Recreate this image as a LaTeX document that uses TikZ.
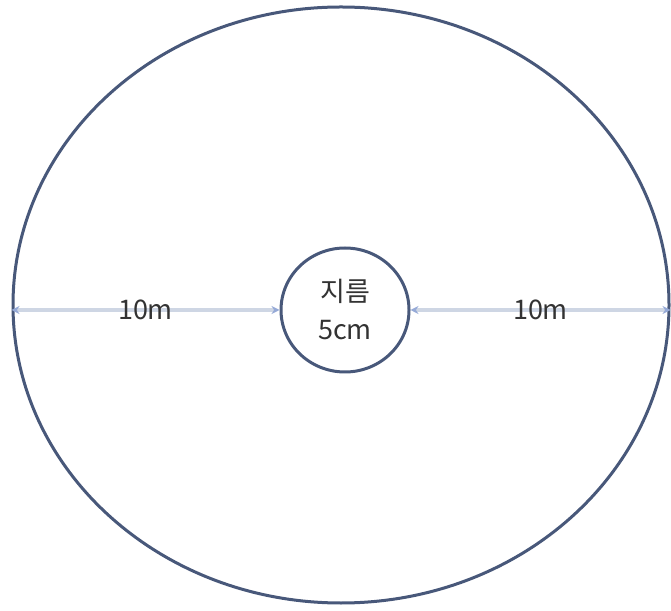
\documentclass[tikz,border=0pt]{standalone}
\usepackage{fontspec}
\setmainfont{Noto Sans CJK KR}
\usetikzlibrary{shapes.geometric,arrows.meta,positioning}
\definecolor{rim}{RGB}{72,88,122}
\definecolor{dimline}{RGB}{206,214,228}
\definecolor{dimtip}{RGB}{150,170,215}
\tikzset{
  ring/.style={ellipse, draw=rim, line width=3pt, inner sep=0pt},
  dim/.style={{Stealth[length=8pt,width=8pt,color=dimtip]}-{Stealth[length=8pt,width=8pt,color=dimtip]}, draw=dimline, line width=3.5pt},
  lbl/.style={font=\fontsize{27}{32}\selectfont, text=black!80}
}
\begin{document}
\begin{tikzpicture}[x=1pt,y=1pt]
\useasboundingbox (0,0) rectangle (671,610);
\node[ring, minimum width=656pt, minimum height=596pt] (outer) at (341,305) {};
\node[ring, minimum width=128pt, minimum height=124pt, align=center, lbl] (inner) at (345,300) {지름\\[6pt]5cm};

\draw[dim] (inner.west -| outer.west) -- node[lbl] (left) {10m} (inner.west);
\draw[dim] (inner.east) -- node[lbl] (right) {10m} (inner.east -| outer.east);
\end{tikzpicture}
\end{document}
